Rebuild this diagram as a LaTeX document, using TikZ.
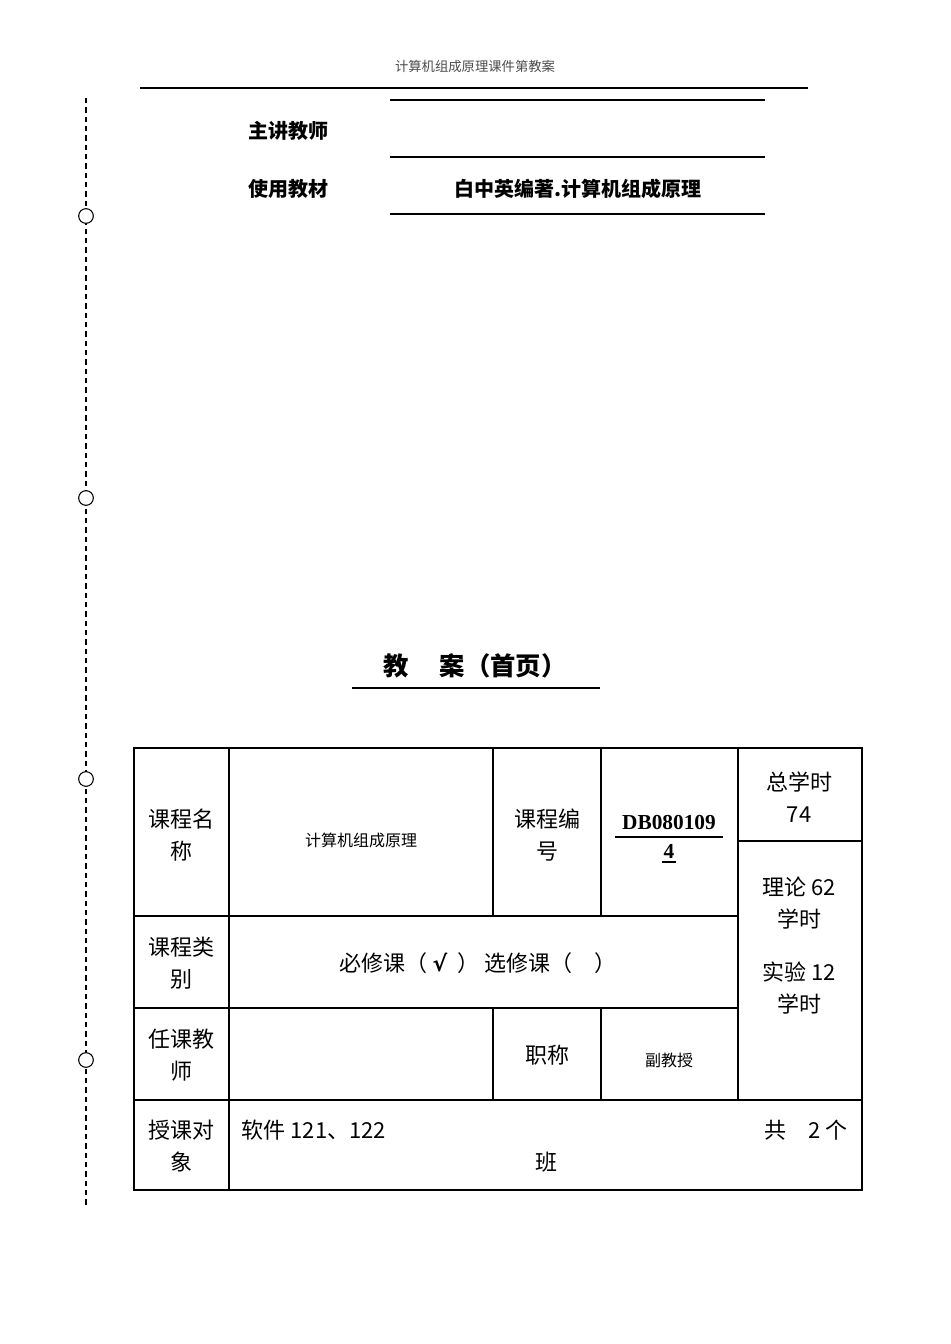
\documentclass[tikz,border=0pt]{standalone}
\usepackage{fontspec}
\setmainfont{Noto Sans CJK SC}
\newfontfamily\serifnum{Liberation Serif}
\newfontfamily\dvs{DejaVu Sans}
\begin{document}
\begin{tikzpicture}[x=0.75pt,y=-0.75pt,
  hdr/.style={font=\fontsize{10}{12}\selectfont,text=black!70},
  lbl/.style={font=\fontsize{15}{18}\selectfont\bfseries},
  cell/.style={font=\fontsize{16.5}{24}\selectfont,align=center},
  small/.style={font=\fontsize{12}{14}\selectfont,align=center},
  thin/.style={line width=0.8pt},
  thick/.style={line width=1.6pt},
  ring/.style={draw,circle,fill=white,minimum size=11pt,inner sep=0pt,line width=0.8pt}]
\useasboundingbox (0,0) rectangle (950,1344);
% header
\node[hdr] (hd) at (475,66) {计算机组成原理课件第教案};
\draw[thin] (140,88) -- (808,88);
% binding line
\draw[line width=1pt,dash pattern=on 4pt off 3pt] (86,98) -- (86,1205);
\foreach \y/\n in {216/a,498/b,779/c,1060/d} \node[ring] (r\n) at (86,\y) {};
% top fields
\draw[line width=2.2pt] (390,100) -- (765,100);
\draw[line width=2.2pt] (390,157) -- (765,157);
\draw[line width=2.2pt] (390,214) -- (765,214);
\node[lbl] (t1) at (288,131) {主讲教师};
\node[lbl] (t2) at (288,189) {使用教材};
\node[lbl] (t3) at (578,189) {白中英编著.计算机组成原理};
% title
\node[font=\fontsize{19}{22}\selectfont\bfseries] (title) at (475,666) {教\quad\ 案（首页）};
\draw[thin] (352,688) -- (600,688);
% table
\draw[thick] (134,748) rectangle (862,1190);
\draw[thin] (134,916) -- (738,916);
\draw[thin] (134,1008) -- (738,1008);
\draw[thick] (134,1100) -- (862,1100);
\draw[thin] (738,841) -- (862,841);
\draw[thin] (229,748) -- (229,1190);
\draw[thin] (493,748) -- (493,916) (493,1008) -- (493,1100);
\draw[thin] (601,748) -- (601,916) (601,1008) -- (601,1100);
\draw[thin] (738,748) -- (738,1100);
\node[cell] (c1) at (181,835) {课程名\\称};
\node[small] (c2) at (361,840) {计算机组成原理};
\node[cell] (c3) at (547,835) {课程编\\号};
\node[font=\fontsize{16}{20}\selectfont\bfseries\serifnum] (c4) at (669,823) {DB080109};
\node[font=\fontsize{16}{20}\selectfont\bfseries\serifnum] (c4b) at (669,851) {4};
\draw[thin] (615,837) -- (723,837);
\draw[thin] (662,862) -- (676,862);
\node[cell] (c5) at (799,797) {总学时\\74};
\node[cell] (c6) at (799,903) {理论 62\\学时};
\node[cell] (c7) at (799,988) {实验 12\\学时};
\node[cell] (c8) at (181,963) {课程类\\别};
\node[cell] (c9) at (478,963) {必修课（\ {\dvs\bfseries √}\ \ ）\ 选修课（\quad ）};
\node[cell] (c10) at (181,1055) {任课教\\师};
\node[cell] (c11) at (547,1055) {职称};
\node[small] (c12) at (669,1060) {副教授};
\node[cell] (c13) at (181,1146) {授课对\\象};
\node[cell,anchor=west] (c14) at (237,1130) {软件 121、122};
\node[cell,anchor=east] (c15) at (852,1130) {共\quad 2 个};
\node[cell] (c16) at (546,1162) {班};
\end{tikzpicture}
\end{document}
